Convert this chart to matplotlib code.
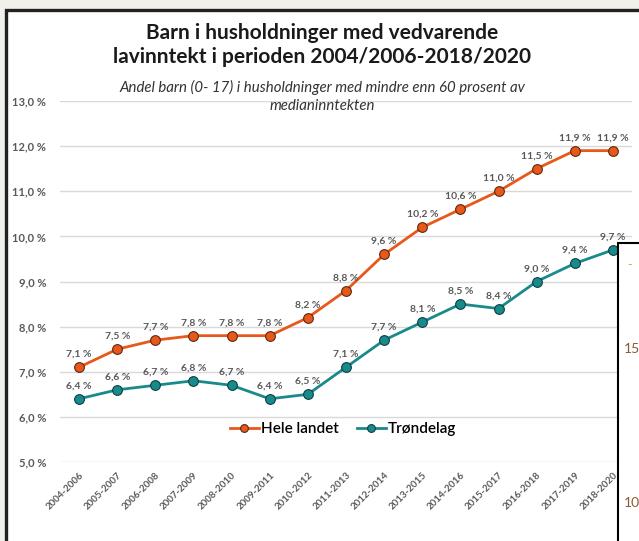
import numpy as np
import matplotlib.pyplot as plt
from matplotlib.patches import Rectangle

plt.rcParams['font.family'] = ['Lato', 'DejaVu Sans']

# --- data ---
periods = ['2004-2006', '2005-2007', '2006-2008', '2007-2009', '2008-2010',
           '2009-2011', '2010-2012', '2011-2013', '2012-2014', '2013-2015',
           '2014-2016', '2015-2017', '2016-2018', '2017-2019', '2018-2020']
hele_landet = [7.1, 7.5, 7.7, 7.8, 7.8, 7.8, 8.2, 8.8, 9.6, 10.2, 10.6, 11.0, 11.5, 11.9, 11.9]
trondelag = [6.4, 6.6, 6.7, 6.8, 6.7, 6.4, 6.5, 7.1, 7.7, 8.1, 8.5, 8.4, 9.0, 9.4, 9.7]
y_ticks = [5, 6, 7, 8, 9, 10, 11, 12, 13]

W, H = 639, 541
fig = plt.figure(figsize=(W / 100, H / 100), dpi=100)
fig.patch.set_facecolor('#F2F0EA')

# chart frame (screenshot border)
fig.patches.append(Rectangle((6 / W, -0.05), 1.1, (H - 10) / H + 0.05,
                             transform=fig.transFigure, facecolor='white',
                             edgecolor='#222222', lw=2.4, zorder=-5))

ax = fig.add_axes([60 / W, (H - 462) / H, 572 / W, 361 / H])
ax.set_facecolor('none')

x = np.arange(len(periods))
c_or = '#E8581A'
c_te = '#198A8C'
ax.plot(x, hele_landet, '-o', color=c_or, lw=2.0, ms=7, mec='#5a2a10', mew=0.8,
        label='Hele landet', zorder=3)
ax.plot(x, trondelag, '-o', color=c_te, lw=2.0, ms=7, mec='#0d3f40', mew=0.8,
        label='Trøndelag', zorder=3)

fmt = lambda v: f'{v:.1f} %'.replace('.', ',')
for xi, v in zip(x, hele_landet):
    ax.annotate(fmt(v), (xi, v), xytext=(0, 6), textcoords='offset points',
                ha='center', va='bottom', fontsize=7.5, color='#595959', fontweight='bold')
for xi, v in zip(x, trondelag):
    ax.annotate(fmt(v), (xi, v), xytext=(0, 6), textcoords='offset points',
                ha='center', va='bottom', fontsize=7.5, color='#595959', fontweight='bold')

ax.set_xlim(-0.5, len(periods) - 0.5)
ax.set_ylim(5, 13)
ax.set_yticks(y_ticks)
ax.set_yticklabels([fmt(v) for v in y_ticks], fontsize=8, color='#595959', fontweight='bold')
ax.set_xticks(x)
ax.set_xticklabels(periods, rotation=45, ha='right', rotation_mode='anchor',
                   fontsize=7, color='#595959', fontweight='bold')
ax.tick_params(length=0, pad=6)
ax.tick_params(axis='y', pad=10)
ax.grid(axis='y', color='#D9D9D9', lw=1)
ax.set_axisbelow(True)
for s in ax.spines.values():
    s.set_visible(False)

ax.legend(loc='center', bbox_to_anchor=((343 - 60) / 572, (462 - 429) / 361),
          ncol=2, frameon=False, handlelength=1.9, columnspacing=1.2,
          handletextpad=0.15, markerscale=0.8,
          prop={'size': 11, 'weight': 'semibold'})

# title and subtitle
fig.text(322 / W, 1 - 33 / H, 'Barn i husholdninger med vedvarende', ha='center',
         va='center', fontsize=15, fontweight='bold', color='#1a1a1a')
fig.text(322 / W, 1 - 57 / H, 'lavinntekt i perioden 2004/2006-2018/2020', ha='center',
         va='center', fontsize=15, fontweight='bold', color='#1a1a1a')
fig.text(322 / W, 1 - 87 / H, 'Andel barn (0- 17) i husholdninger med mindre enn 60 prosent av',
         ha='center', va='center', fontsize=10.8, style='italic', color='#333333')
fig.text(322 / W, 1 - 106 / H, 'medianinntekten', ha='center', va='center',
         fontsize=10.8, style='italic', color='#333333')

# overlapping window at the right edge
fig.patches.append(Rectangle((618 / W, -0.05), 0.2, (H - 243) / H + 0.05,
                             transform=fig.transFigure, facecolor='white',
                             edgecolor='black', lw=1.5, zorder=10))
fig.text(627 / W, 1 - 265 / H, '-', color='#E8A040', fontsize=9, zorder=11, va='center')
fig.text(624 / W, 1 - 349 / H, '15', color='#8a5a30', fontsize=10, zorder=11, va='center')
fig.text(624 / W, 1 - 503 / H, '10', color='#8a5a30', fontsize=10, zorder=11, va='center')

fig.savefig('out.png', dpi=100, facecolor=fig.get_facecolor())
